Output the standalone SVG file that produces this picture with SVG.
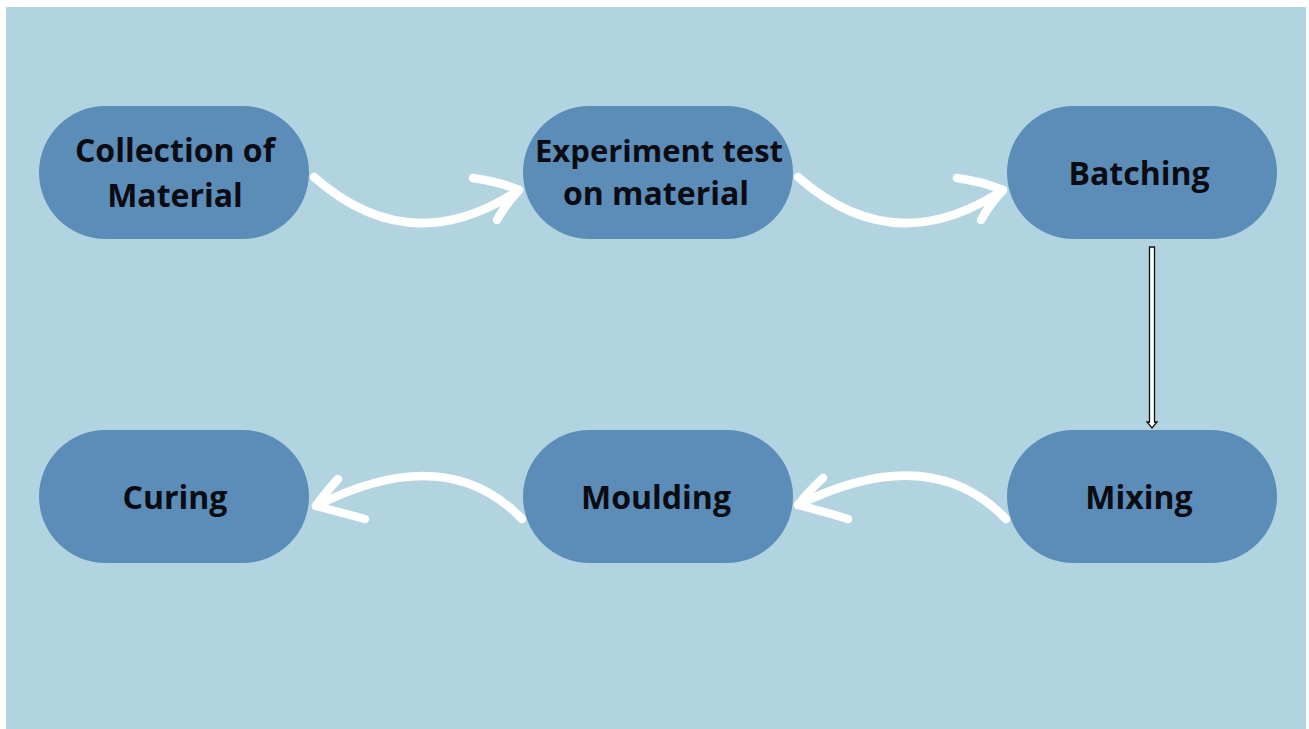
<svg xmlns="http://www.w3.org/2000/svg" width="1309" height="729" viewBox="0 0 1309 729">
<style>
.node{fill:#5b8db8}
.lbl{font-family:"Open Sans","Liberation Sans",sans-serif;font-weight:700;font-size:32px;fill:#0b0b12;text-anchor:middle}
.arr{fill:none;stroke:#ffffff;stroke-width:8.5;stroke-linecap:round;stroke-linejoin:round}
.head{fill:none;stroke:#ffffff;stroke-width:8.5;stroke-linecap:round;stroke-linejoin:round}
</style>
<rect x="0" y="0" width="1309" height="729" fill="#ffffff"/>
<rect x="6" y="7" width="1300" height="722" fill="#b2d4e0"/>
<g id="connectors">
<path class="arr" d="M314,177 Q410,262 519,190"/>
<path class="head" d="M473,178 Q500,182 519,190 Q505,205 497,220"/>
<path class="arr" d="M798,177 Q894,262 1003,190"/>
<path class="head" d="M957,178 Q984,182 1003,190 Q989,205 981,220"/>
<path class="arr" d="M1006,519 Q930,440 798,505"/>
<path class="head" d="M823,478 Q808,492 798,505 Q825,512 848,519"/>
<path class="arr" d="M522,519 Q446,440 316,506"/>
<path class="head" d="M338,479 Q325,493 316,506 Q342,513 365,519"/>
<path d="M1149.5,247 H1154.5 V422 H1157 L1152,428 L1147,422 H1149.5 Z" fill="#ffffff" stroke="#111111" stroke-width="1.3"/>
</g>
<g id="n1"><rect class="node" x="39" y="106" width="270" height="133" rx="66.5"/><text class="lbl" x="175" y="162">Collection of</text><text class="lbl" x="175" y="207">Material</text></g>
<g id="n2"><rect class="node" x="523" y="106" width="270" height="133" rx="66.5"/><text class="lbl" x="659" y="162" style="font-size:31px">Experiment test</text><text class="lbl" x="656" y="205">on material</text></g>
<g id="n3"><rect class="node" x="1007" y="106" width="270" height="133" rx="66.5"/><text class="lbl" x="1139" y="185">Batching</text></g>
<g id="n4"><rect class="node" x="1007" y="430" width="270" height="133" rx="66.5"/><text class="lbl" x="1139" y="509">Mixing</text></g>
<g id="n5"><rect class="node" x="523" y="430" width="270" height="133" rx="66.5"/><text class="lbl" x="656" y="509">Moulding</text></g>
<g id="n6"><rect class="node" x="39" y="430" width="270" height="133" rx="66.5"/><text class="lbl" x="175" y="509">Curing</text></g>
</svg>
